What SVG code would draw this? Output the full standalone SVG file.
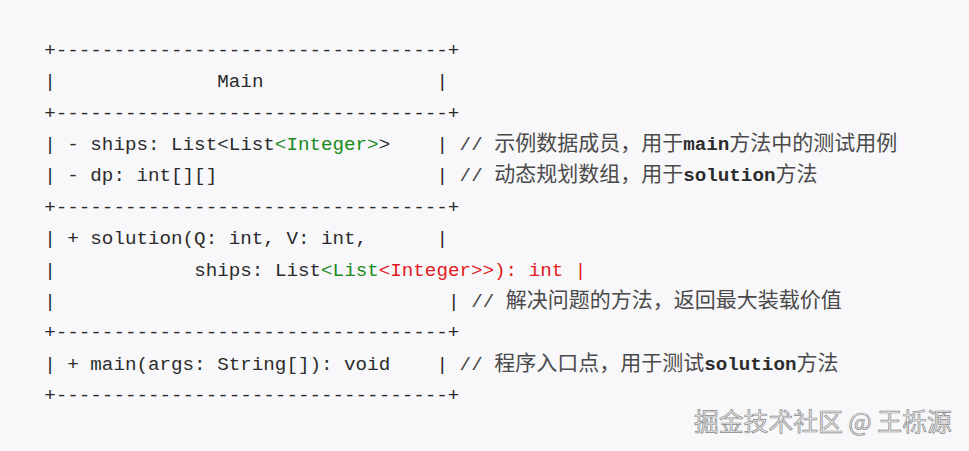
<svg xmlns="http://www.w3.org/2000/svg" width="969" height="451" viewBox="0 0 969 451">
<style>
.code{font-family:"Liberation Mono","Noto Sans CJK SC",monospace;font-size:19.23px;fill:#2b2b2b}
.g{fill:#1a8a1a}
.r{fill:#e3191b}
.cm{fill:#444}
.cj{font-family:"Noto Sans CJK SC","Noto Sans CJK JP",sans-serif;font-size:21px;fill:#4a4a4a}
.b{font-weight:bold;fill:#2b2b2b}
.wm{font-family:"Noto Sans CJK SC","Noto Sans CJK JP",sans-serif;font-size:24.8px;fill:#e9e9e9;stroke:#8a8a8a;stroke-width:0.7px}
</style>
<rect width="969" height="451" fill="#f8f8fa"/>
<g id="box" class="code">
<text x="44.2" y="56">+----------------------------------+</text>
<text y="87.4"><tspan x="44.2">|</tspan><tspan x="217.3">Main</tspan><tspan x="436.6">|</tspan></text>
<text x="44.2" y="118.7">+----------------------------------+</text>
<text y="150.1"><tspan x="44.2">| - ships: List&lt;List</tspan><tspan class="g">&lt;Integer&gt;</tspan>&gt;<tspan x="436.6">|</tspan><tspan x="459.6" class="cm">// </tspan><tspan class="cj">示例数据成员，用于</tspan><tspan class="b">main</tspan><tspan class="cj">方法中的测试用例</tspan></text>
<text y="181.4"><tspan x="44.2">| - dp: int[][]</tspan><tspan x="436.6">|</tspan><tspan x="459.6" class="cm">// </tspan><tspan class="cj">动态规划数组，用于</tspan><tspan class="b">solution</tspan><tspan class="cj">方法</tspan></text>
<text x="44.2" y="212.8">+----------------------------------+</text>
<text y="244.2"><tspan x="44.2">| + solution(Q: int, V: int,</tspan><tspan x="436.6">|</tspan></text>
<text y="275.5"><tspan x="44.2">|</tspan><tspan x="194.2">ships: List</tspan><tspan class="g">&lt;List</tspan><tspan class="r">&lt;Integer&gt;&gt;): int |</tspan></text>
<text y="306.9"><tspan x="44.2">|</tspan><tspan x="448.1">|</tspan><tspan x="471.2" class="cm">// </tspan><tspan class="cj">解决问题的方法，返回最大装载价值</tspan></text>
<text x="44.2" y="338.2">+----------------------------------+</text>
<text y="369.6"><tspan x="44.2">| + main(args: String[]): void</tspan><tspan x="436.6">|</tspan><tspan x="459.6" class="cm">// </tspan><tspan class="cj">程序入口点，用于测试</tspan><tspan class="b">solution</tspan><tspan class="cj">方法</tspan></text>
<text x="44.2" y="401">+----------------------------------+</text>
</g>
<g id="watermark">
<text class="wm" x="694" y="431">掘金技术社区 @ 王栎源</text>
</g>
</svg>
